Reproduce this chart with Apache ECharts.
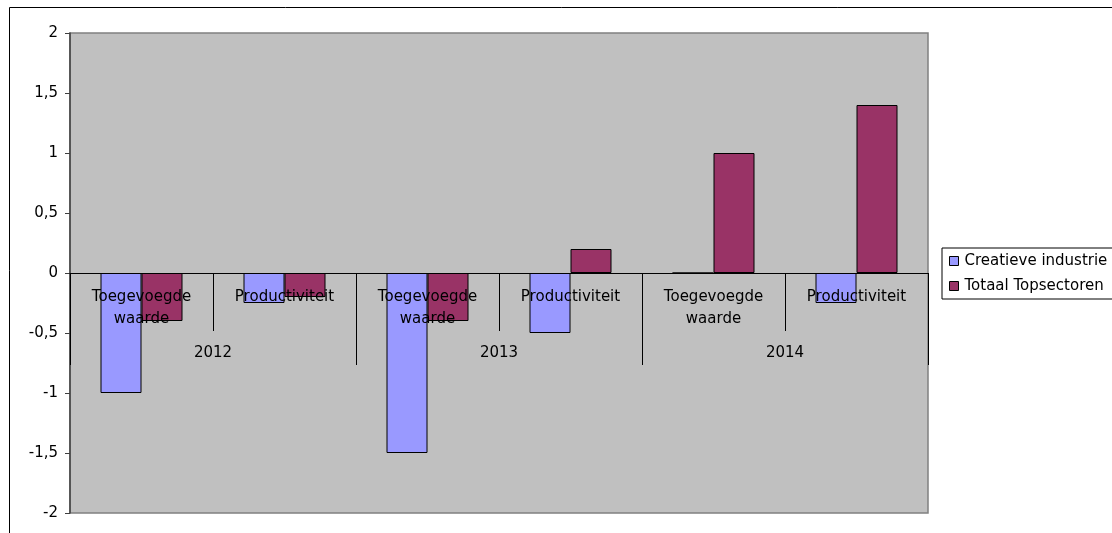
<!DOCTYPE html>
<html>
<head>
<meta charset="utf-8">
<script src="https://cdn.jsdelivr.net/npm/echarts@6/dist/echarts.min.js"></script>
<style>html,body{margin:0;padding:0;background:#fff;}#c{width:1112px;height:533px;}</style>
</head>
<body>
<div id="c"></div>
<script>
const categories = ['Toegevoegde\nwaarde', 'Productiviteit', 'Toegevoegde\nwaarde', 'Productiviteit', 'Toegevoegde\nwaarde', 'Productiviteit'];
const years = ['2012', '2013', '2014'];
const creatieve = [-1, -0.25, -1.5, -0.5, 0, -0.25];
const topsectoren = [-0.4, -0.2, -0.4, 0.2, 1, 1.4];
const yTicks = [-2, -1.5, -1, -0.5, 0, 0.5, 1, 1.5, 2];

const FONT = 'DejaVu Sans';
const yMin = yTicks[0], yMax = yTicks[yTicks.length - 1];
// plot rect
const L = 70, R = 184, T = 33, B = 20, H = 533 - T - B;
const zeroBottom = B + H * (0 - yMin) / (yMax - yMin); // distance from bottom of page to zero line

const chart = echarts.init(document.getElementById('c'));
chart.setOption({
  backgroundColor: '#ffffff',
  animation: false,
  textStyle: { fontFamily: FONT },
  graphic: [{
    type: 'rect', shape: { x: 9.5, y: 7.5, width: 1300, height: 700 },
    style: { fill: 'none', stroke: '#000', lineWidth: 1 }, silent: true, z: -10
  }],
  grid: [
    { left: L, right: R, top: T, bottom: B, outerBoundsMode: 'none', containLabel: false,
      show: true, backgroundColor: '#C0C0C0', borderColor: '#808080', borderWidth: 1.5 },
    { left: L, right: R, top: T, bottom: 533 - (533 - zeroBottom), outerBoundsMode: 'none', containLabel: false },
    { left: L, right: R, top: T, bottom: 533 - (533 - zeroBottom), outerBoundsMode: 'none', containLabel: false }
  ],
  legend: {
    orient: 'vertical', left: 942, top: 248,
    padding: [5, 30, 5, 7],
    itemWidth: 9, itemHeight: 9, itemGap: 9,
    borderColor: '#000', borderWidth: 1, backgroundColor: '#fff',
    icon: 'rect',
    textStyle: { fontFamily: FONT, fontSize: 15, color: '#000', lineHeight: 16, padding: [0, 0, 0, 1] },
    data: [
      { name: 'Creatieve industrie', itemStyle: { color: '#9999FF', borderColor: '#000', borderWidth: 1 } },
      { name: 'Totaal Topsectoren', itemStyle: { color: '#993366', borderColor: '#000', borderWidth: 1 } }
    ]
  },
  xAxis: [{
    gridIndex: 0, type: 'category', data: categories,
    axisLine: { show: false, onZero: false }, axisTick: { show: false }, axisLabel: { show: false },
    splitLine: { show: false }
  }, {
    gridIndex: 1, type: 'category', data: categories, position: 'bottom',
    axisLine: { show: true, onZero: false, lineStyle: { color: '#000', width: 1 } },
    axisTick: { show: true, length: 58, interval: 0, lineStyle: { color: '#000' } },
    axisLabel: { interval: 0, margin: 13, fontFamily: FONT, fontSize: 15, color: '#000', lineHeight: 22, verticalAlign: 'top' },
    splitLine: { show: false }, z: 5
  }, {
    gridIndex: 2, type: 'category', data: years, position: 'bottom',
    axisLine: { show: false, onZero: false },
    axisTick: { show: true, length: 92, interval: 0, lineStyle: { color: '#000' } },
    axisLabel: { interval: 0, margin: 69, fontFamily: FONT, fontSize: 15, color: '#000', lineHeight: 22, verticalAlign: 'top' },
    splitLine: { show: false }, z: 5
  }],
  yAxis: [{
    gridIndex: 0, type: 'value', min: yMin, max: yMax, interval: 0.5,
    axisLine: { show: true, onZero: false, lineStyle: { color: '#404040', width: 1.5 } },
    axisTick: { show: true, length: 5, lineStyle: { color: '#404040' } },
    axisLabel: { margin: 12, fontFamily: FONT, fontSize: 15, color: '#000',
      formatter: v => { const t = yTicks.find(x => Math.abs(x - v) < 1e-9); return String(t).replace('.', ','); } },
    splitLine: { show: false }
  }, {
    gridIndex: 1, type: 'value', show: false, min: 0, max: 1
  }, {
    gridIndex: 2, type: 'value', show: false, min: 0, max: 1
  }],
  series: [{
    name: 'Creatieve industrie', type: 'bar', data: creatieve, xAxisIndex: 0, yAxisIndex: 0,
    barWidth: 41, barGap: '0%',
    itemStyle: { color: '#9999FF', borderColor: '#000', borderWidth: 1 }
  }, {
    name: 'Totaal Topsectoren', type: 'bar', data: topsectoren, xAxisIndex: 0, yAxisIndex: 0,
    barWidth: 41, barGap: '0%',
    itemStyle: { color: '#993366', borderColor: '#000', borderWidth: 1 }
  }]
});
</script>
</body>
</html>
